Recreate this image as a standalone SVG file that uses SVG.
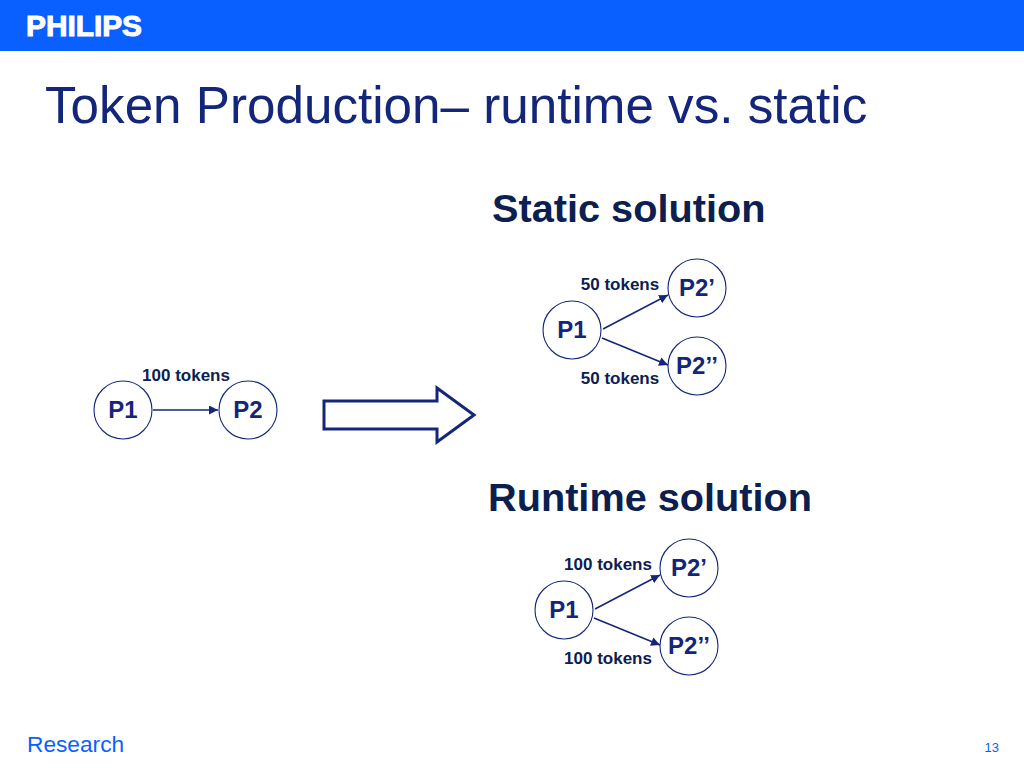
<svg xmlns="http://www.w3.org/2000/svg" width="1024" height="768" viewBox="0 0 1024 768">
<style>
text{font-family:"Liberation Sans",Arial,sans-serif}
.c{fill:#fff;stroke:#14267a;stroke-width:1.1}
.n{font-size:24px;font-weight:bold;fill:#14267a;text-anchor:middle}
.t{font-size:17px;font-weight:bold;fill:#0c2050;text-anchor:middle}
.h{font-size:39.700px;font-weight:bold;fill:#0c2050}
.l{fill:none;stroke:#14267a;stroke-width:1.6}
</style>
<defs><marker id="a" markerUnits="userSpaceOnUse" markerWidth="10" markerHeight="9" refX="9" refY="4.5" orient="auto"><path d="M0 0L9 4.5L0 9Z" fill="#14267a"/></marker></defs>
<rect width="1024" height="51" fill="#0a60ff"/>
<text x="26" y="35.500" font-size="29" font-weight="bold" fill="#fff" stroke="#fff" stroke-width="1" textLength="116" lengthAdjust="spacingAndGlyphs">PHILIPS</text>
<text x="45" y="123" font-size="51.200" fill="#14267a">Token Production– runtime vs. static</text>
<text class="h" x="492" y="221.500">Static solution</text>
<text class="h" x="488" y="510.500">Runtime solution</text>
<g id="connectors">
<path class="l" marker-end="url(#a)" d="M153 410H218"/>
<path class="l" marker-end="url(#a)" d="M603 329L668 295"/>
<path class="l" marker-end="url(#a)" d="M602 338L668 365"/>
<path class="l" marker-end="url(#a)" d="M595 609L660 575"/>
<path class="l" marker-end="url(#a)" d="M594 618L660 645"/>
<path fill="#fff" stroke="#14267a" stroke-width="3" d="M324 401H437V388L474 415L437 442V429H324Z"/>
</g>
<g id="left-p1"><circle class="c" cx="123" cy="410" r="29"/><text class="n" x="123" y="418">P1</text></g>
<g id="left-p2"><circle class="c" cx="248" cy="410" r="29"/><text class="n" x="248" y="418">P2</text></g>
<text class="t" x="186" y="380.500">100 tokens</text>
<g id="static-p1"><circle class="c" cx="572" cy="330" r="29"/><text class="n" x="572" y="338">P1</text></g>
<g id="static-p2a"><circle class="c" cx="697" cy="288" r="29"/><text class="n" x="697" y="296">P2’</text></g>
<g id="static-p2b"><circle class="c" cx="697" cy="366" r="29"/><text class="n" x="697" y="374">P2’’</text></g>
<text class="t" x="620" y="289.500">50 tokens</text>
<text class="t" x="620" y="383.500">50 tokens</text>
<g id="runtime-p1"><circle class="c" cx="564" cy="610" r="29"/><text class="n" x="564" y="618">P1</text></g>
<g id="runtime-p2a"><circle class="c" cx="689" cy="568" r="29"/><text class="n" x="689" y="576">P2’</text></g>
<g id="runtime-p2b"><circle class="c" cx="689" cy="646" r="29"/><text class="n" x="689" y="654">P2’’</text></g>
<text class="t" x="608" y="569.500">100 tokens</text>
<text class="t" x="608" y="663.500">100 tokens</text>
<text x="27" y="752" font-size="22.700" fill="#0a60ff">Research</text>
<text x="999" y="752" font-size="13" fill="#0a60ff" text-anchor="end">13</text>
</svg>
